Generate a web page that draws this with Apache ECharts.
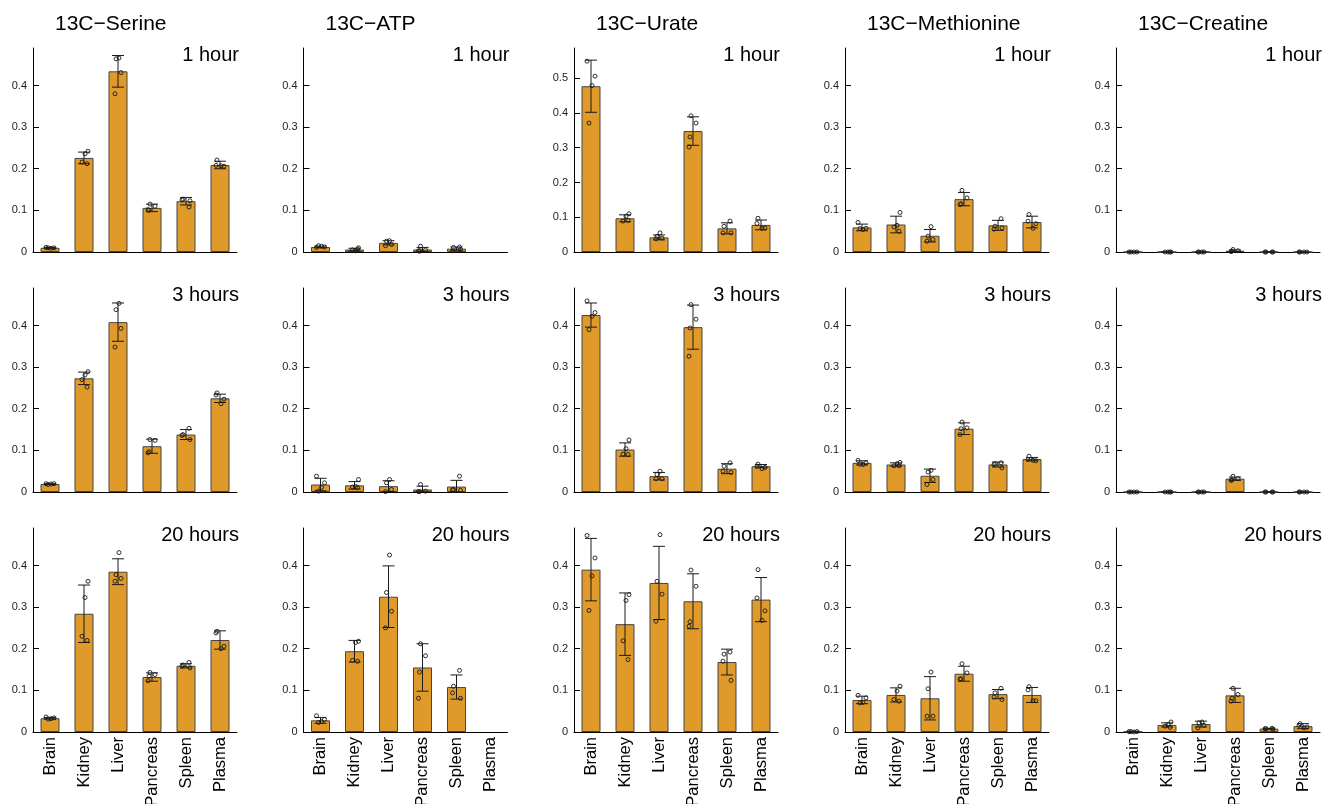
<!DOCTYPE html>
<html>
<head>
<meta charset="utf-8">
<script src="https://cdn.jsdelivr.net/npm/echarts@6/dist/echarts.min.js"></script>
<style>
html, body { margin: 0; padding: 0; background: #fff; }
#chart { width: 1322px; height: 804px; }
</style>
</head>
<body>
<div id="chart"></div>
<script>
// categories and labels
const tissues = ['Brain', 'Kidney', 'Liver', 'Pancreas', 'Spleen', 'Plasma'];
const metabolites = ['13C\u2212Serine', '13C\u2212ATP', '13C\u2212Urate', '13C\u2212Methionine', '13C\u2212Creatine'];
const timepoints = ['1 hour', '3 hours', '20 hours'];
const yTicks = [0, 0.1, 0.2, 0.3, 0.4];
const yTicksUrate1h = [0, 0.1, 0.2, 0.3, 0.4, 0.5];

// means per time point [1h, 3h, 20h], one value per tissue
const serineMean = [
  [0.010, 0.226, 0.434, 0.106, 0.122, 0.209],
  [0.019, 0.273, 0.408, 0.110, 0.138, 0.225],
  [0.033, 0.284, 0.385, 0.132, 0.159, 0.221]
];
const serineSd = [
  [0.001, 0.014, 0.038, 0.009, 0.009, 0.009],
  [0.001, 0.015, 0.046, 0.017, 0.012, 0.010],
  [0.002, 0.069, 0.031, 0.010, 0.005, 0.022]
];
const serinePts = [
  [[0.011, 0.010, 0.009, 0.010], [0.242, 0.236, 0.216, 0.212], [0.466, 0.464, 0.431, 0.380], [0.115, 0.110, 0.100, 0.102], [0.108, 0.127, 0.125, 0.123], [0.221, 0.208, 0.206, 0.207]],
  [[0.020, 0.020, 0.019, 0.018], [0.289, 0.281, 0.270, 0.252], [0.453, 0.438, 0.393, 0.348], [0.126, 0.124, 0.097, 0.094], [0.153, 0.138, 0.136, 0.126], [0.238, 0.233, 0.223, 0.212]],
  [[0.036, 0.034, 0.032, 0.031], [0.362, 0.323, 0.230, 0.220], [0.431, 0.378, 0.369, 0.362], [0.143, 0.138, 0.134, 0.123], [0.167, 0.161, 0.158, 0.154], [0.242, 0.238, 0.206, 0.200]]
];

const atpMean = [
  [0.012, 0.006, 0.022, 0.006, 0.008, null],
  [0.018, 0.016, 0.014, 0.006, 0.013, null],
  [0.028, 0.194, 0.325, 0.155, 0.108, null]
];
const atpSd = [
  [0.002, 0.003, 0.005, 0.005, 0.004, null],
  [0.015, 0.009, 0.013, 0.008, 0.015, null],
  [0.007, 0.026, 0.074, 0.057, 0.029, null]
];
const atpPts = [
  [[0.011, 0.012, 0.014, 0.015], [0.010, 0.003, 0.005, 0.007], [0.027, 0.026, 0.018, 0.015], [0.014, 0.005, 0.002, 0.003], [0.012, 0.011, 0.003, 0.006], []],
  [[0.038, 0.022, 0.011, 0.002], [0.030, 0.013, 0.012, 0.011], [0.030, 0.022, 0.006, 0.001], [0.018, 0.002, 0.001, 0.001], [0.038, 0.006, 0.005, 0.004], []],
  [[0.039, 0.030, 0.025, 0.023], [0.218, 0.215, 0.172, 0.170], [0.425, 0.335, 0.290, 0.250], [0.212, 0.183, 0.144, 0.081], [0.148, 0.110, 0.094, 0.081], []]
];

const urateMean = [
  [0.477, 0.097, 0.042, 0.348, 0.068, 0.078],
  [0.425, 0.102, 0.038, 0.396, 0.056, 0.062],
  [0.390, 0.259, 0.358, 0.314, 0.168, 0.318]
];
const urateSd = [
  [0.075, 0.010, 0.007, 0.041, 0.016, 0.014],
  [0.029, 0.016, 0.009, 0.053, 0.012, 0.004],
  [0.075, 0.075, 0.088, 0.066, 0.031, 0.053]
];
const uratePts = [
  [[0.549, 0.506, 0.479, 0.371], [0.110, 0.103, 0.089, 0.091], [0.055, 0.045, 0.040, 0.038], [0.392, 0.371, 0.331, 0.302], [0.089, 0.074, 0.055, 0.055], [0.097, 0.082, 0.069, 0.068]],
  [[0.459, 0.431, 0.422, 0.390], [0.125, 0.104, 0.091, 0.090], [0.050, 0.042, 0.032, 0.032], [0.450, 0.415, 0.394, 0.326], [0.070, 0.062, 0.050, 0.047], [0.067, 0.062, 0.059, 0.056]],
  [[0.472, 0.418, 0.375, 0.292], [0.330, 0.316, 0.219, 0.174], [0.474, 0.362, 0.331, 0.266], [0.389, 0.350, 0.265, 0.254], [0.192, 0.187, 0.170, 0.124], [0.390, 0.322, 0.291, 0.268]]
];

const methionineMean = [
  [0.059, 0.066, 0.039, 0.127, 0.064, 0.072],
  [0.070, 0.066, 0.039, 0.152, 0.066, 0.079],
  [0.077, 0.089, 0.081, 0.140, 0.091, 0.089]
];
const methionineSd = [
  [0.008, 0.020, 0.015, 0.016, 0.012, 0.014],
  [0.005, 0.004, 0.016, 0.014, 0.006, 0.004],
  [0.009, 0.017, 0.052, 0.018, 0.011, 0.018]
];
const methioninePts = [
  [[0.071, 0.057, 0.054, 0.056], [0.095, 0.064, 0.060, 0.050], [0.061, 0.038, 0.030, 0.026], [0.148, 0.130, 0.116, 0.114], [0.080, 0.062, 0.055, 0.058], [0.090, 0.074, 0.068, 0.057]],
  [[0.076, 0.070, 0.066, 0.067], [0.071, 0.068, 0.063, 0.063], [0.052, 0.048, 0.030, 0.018], [0.168, 0.154, 0.152, 0.138], [0.070, 0.068, 0.066, 0.058], [0.086, 0.078, 0.075, 0.076]],
  [[0.088, 0.082, 0.071, 0.070], [0.110, 0.098, 0.078, 0.074], [0.144, 0.104, 0.038, 0.038], [0.164, 0.142, 0.128, 0.127], [0.105, 0.094, 0.084, 0.078], [0.109, 0.101, 0.075, 0.075]]
];

const creatineMean = [
  [0, 0, 0, 0.003, 0, 0],
  [0, 0, 0, 0.032, 0, 0],
  [0.001, 0.017, 0.019, 0.088, 0.008, 0.014]
];
const creatineSd = [
  [0, 0, 0, 0.002, 0, 0],
  [0, 0, 0, 0.004, 0, 0],
  [0.001, 0.005, 0.007, 0.017, 0.001, 0.006]
];
const creatinePts = [
  [[0, 0, 0, 0], [0, 0, 0, 0], [0, 0, 0, 0], [0.006, 0.003, 0.002, 0.001], [0, 0, 0, 0], [0, 0, 0, 0]],
  [[0, 0, 0, 0], [0, 0, 0, 0], [0, 0, 0, 0], [0.038, 0.032, 0.029, 0.028], [0, 0, 0, 0], [0, 0, 0, 0]],
  [[0.001, 0.001, 0, 0.001], [0.024, 0.018, 0.014, 0.011], [0.024, 0.022, 0.016, 0.010], [0.105, 0.090, 0.081, 0.074], [0.009, 0.008, 0.008, 0.007], [0.020, 0.016, 0.012, 0.010]]
];

const allMeans = [serineMean, atpMean, urateMean, methionineMean, creatineMean];
const allSds = [serineSd, atpSd, urateSd, methionineSd, creatineSd];
const allPts = [serinePts, atpPts, uratePts, methioninePts, creatinePts];

// layout
const colX = [33, 303.5, 574, 845, 1116];
const rowY = [48, 288, 528];
const panelW = 204, panelH = 204;
const font = '"Liberation Sans", Arial, Helvetica, sans-serif';
const barColor = '#e09a2a';
const jitter = [-4, 4, 1, -2, 3, -3];

const grid = [], xAxis = [], yAxis = [], series = [], graphic = [];

metabolites.forEach(function (name, c) {
  graphic.push({
    type: 'text', x: colX[c] + 22, y: 14,
    style: { text: name, fill: '#000', fontSize: 21, fontFamily: font, align: 'left', verticalAlign: 'top' }
  });
  timepoints.forEach(function (tp, r) {
    const i = grid.length;
    const isUrate1h = (c === 2 && r === 0);
    grid.push({ left: colX[c], top: rowY[r], width: panelW, height: panelH, containLabel: false, outerBoundsMode: 'none' });
    xAxis.push({
      type: 'category', gridIndex: i, data: tissues,
      axisLine: { lineStyle: { color: '#000', width: 1 } },
      axisTick: { show: false },
      axisLabel: { show: r === 2, rotate: 90, interval: 0, margin: 5, fontSize: 16.5, color: '#000', fontFamily: font, hideOverlap: false }
    });
    yAxis.push({
      type: 'value', gridIndex: i, min: 0, max: isUrate1h ? 0.587 : 0.49,
      splitLine: { show: false },
      axisLine: { show: true, lineStyle: { color: '#000', width: 1 } },
      axisTick: { show: true, inside: true, length: 6, lineStyle: { color: '#000' }, customValues: isUrate1h ? yTicksUrate1h : yTicks },
      axisLabel: { customValues: isUrate1h ? yTicksUrate1h : yTicks, fontSize: 11, margin: 6, color: '#222', fontFamily: font }
    });
    graphic.push({
      type: 'text', x: colX[c] + panelW + 2, y: rowY[r] - 3,
      style: { text: tp, fill: '#000', fontSize: 20, fontFamily: font, align: 'right', verticalAlign: 'top' }
    });

    const mean = allMeans[c][r], sd = allSds[c][r], pts = allPts[c][r];
    series.push({
      type: 'bar', xAxisIndex: i, yAxisIndex: i, data: mean, barWidth: 19, silent: true,
      itemStyle: { color: barColor, borderColor: '#444', borderWidth: 1 }
    });
    const errData = [];
    mean.forEach(function (m, k) { if (m !== null) errData.push([k, m, sd[k]]); });
    series.push({
      type: 'custom', xAxisIndex: i, yAxisIndex: i, silent: true, z: 3,
      encode: { x: 0, y: 1 },
      data: errData,
      renderItem: function (params, api) {
        const k = api.value(0), m = api.value(1), s = api.value(2);
        const hi = api.coord([k, m + s]);
        const lo = api.coord([k, Math.max(0, m - s)]);
        const hw = 6;
        const st = { stroke: '#1a1a1a', lineWidth: 1 };
        return {
          type: 'group', children: [
            { type: 'line', shape: { x1: hi[0], y1: hi[1], x2: lo[0], y2: lo[1] }, style: st },
            { type: 'line', shape: { x1: hi[0] - hw, y1: hi[1], x2: hi[0] + hw, y2: hi[1] }, style: st },
            { type: 'line', shape: { x1: lo[0] - hw, y1: lo[1], x2: lo[0] + hw, y2: lo[1] }, style: st }
          ]
        };
      }
    });
    const ptData = [];
    pts.forEach(function (arr, k) {
      arr.forEach(function (v, j) { ptData.push([k, v, j]); });
    });
    series.push({
      type: 'custom', xAxisIndex: i, yAxisIndex: i, silent: true, z: 4,
      encode: { x: 0, y: 1 },
      data: ptData,
      renderItem: function (params, api) {
        const k = api.value(0), v = api.value(1), j = api.value(2);
        const p = api.coord([k, v]);
        return {
          type: 'circle',
          shape: { cx: p[0] + jitter[(j + k) % jitter.length], cy: p[1], r: 2 },
          style: { fill: 'none', stroke: '#1a1a1a', lineWidth: 0.9 }
        };
      }
    });
  });
});

const chart = echarts.init(document.getElementById('chart'));
chart.setOption({
  animation: false,
  backgroundColor: '#fff',
  grid: grid,
  xAxis: xAxis,
  yAxis: yAxis,
  graphic: graphic,
  series: series
});
</script>
</body>
</html>
